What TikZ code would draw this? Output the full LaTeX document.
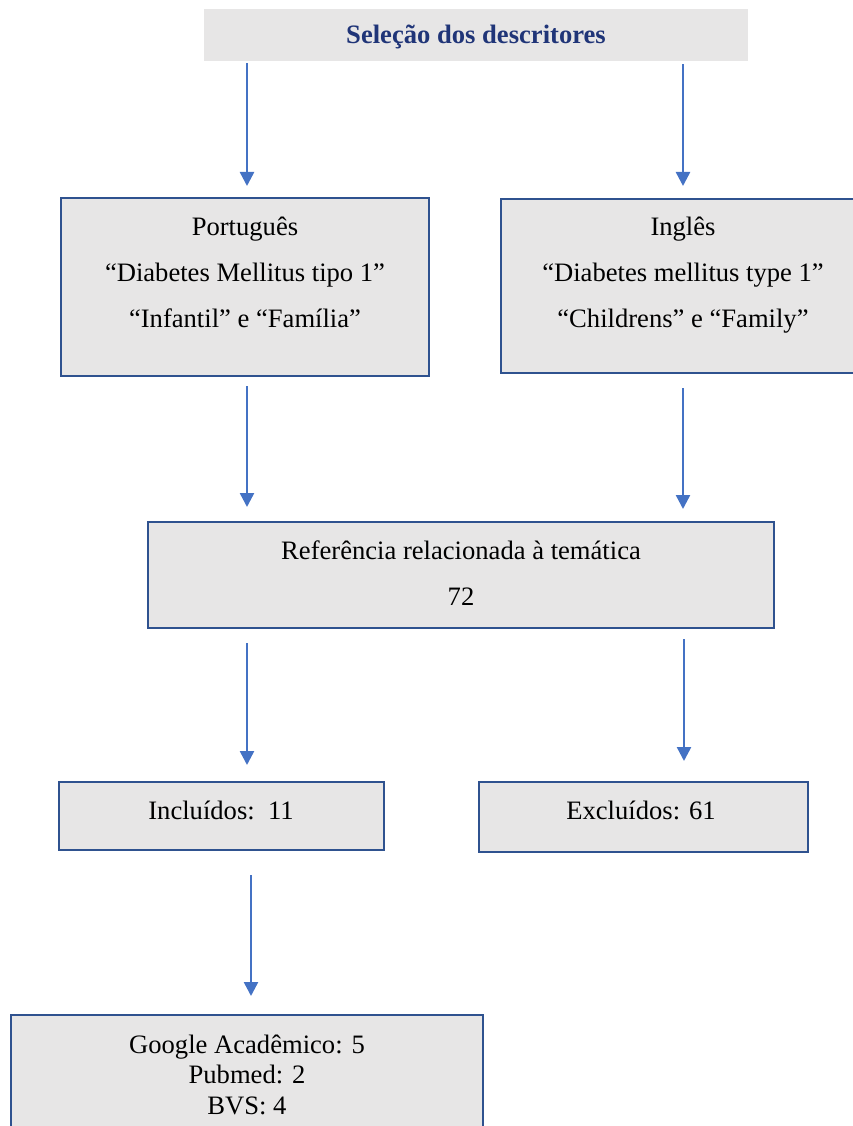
\documentclass[tikz,border=0pt]{standalone}
\usepackage{fontspec}
\setmainfont{Liberation Serif}
\usetikzlibrary{arrows.meta}
\definecolor{boxfill}{HTML}{E7E6E6}
\definecolor{boxline}{HTML}{2F528F}
\definecolor{arrcol}{HTML}{4472C4}
\definecolor{titlecol}{HTML}{203578}
\tikzset{
  box/.style={draw=boxline, line width=2pt, fill=boxfill, inner sep=0pt},
  txt/.style={align=center, inner sep=0pt, font=\fontsize{26.6}{46}\selectfont},
  txtsingle/.style={align=center, inner sep=0pt, font=\fontsize{26.6}{30.5}\selectfont},
  arr/.style={draw=arrcol, line width=2.5pt, -{Triangle[width=14pt,length=14pt]}}
}
\begin{document}
\begin{tikzpicture}[x=1pt,y=1pt]
\useasboundingbox (0,0) rectangle (853,-1126);
% title
\node[fill=boxfill, minimum width=544pt, minimum height=52pt, inner sep=0pt] (top) at (476,-35) {};
\node[txt, text=titlecol, font=\fontsize{26.6}{30}\selectfont\bfseries] (toptxt) at (476,-37) {Seleção dos descritores};
% language boxes
\node[box, minimum width=368pt, minimum height=178pt] (pt) at (245,-287) {};
\node[txt] (pttxt) at (245,-272) {Português\\“Diabetes Mellitus tipo 1”\\“Infantil” e “Família”};
\node[box, minimum width=354pt, minimum height=174pt] (en) at (678,-286) {};
\node[txt] (entxt) at (683,-275) {Inglês\\“Diabetes mellitus type 1”\\“Childrens” e “Family”};
% reference box
\node[box, minimum width=626pt, minimum height=106pt] (ref) at (461,-575) {};
\node[txt] (reftxt) at (461,-573.5) {Referência relacionada à temática\\72};
% included / excluded
\node[box, minimum width=325pt, minimum height=68pt] (inc) at (221.5,-816) {};
\node[txt] (inctxt) at (221,-810) {Incluídos:\ \ 11};
\node[box, minimum width=329pt, minimum height=70pt] (exc) at (643.5,-817) {};
\node[txt] (exctxt) at (641,-810) {Excluídos: 61};
% sources
\node[box, minimum width=472pt, minimum height=120pt] (g) at (247,-1075) {};
\node[txtsingle] (gtxt) at (247,-1074.5) {Google Acadêmico: 5\\Pubmed: 2\\BVS: 4};
% arrows
\draw[arr] ([xshift=-229pt,yshift=-2pt]top.south) -- ([xshift=2pt,yshift=11pt]pt.north);
\draw[arr] ([xshift=207pt,yshift=-3pt]top.south) -- ([xshift=5pt,yshift=12pt]en.north);
\draw[arr] ([xshift=2pt,yshift=-9pt]pt.south) -- ([xshift=-214pt,yshift=14pt]ref.north);
\draw[arr] ([xshift=5pt,yshift=-14pt]en.south) -- ([xshift=222pt,yshift=12pt]ref.north);
\draw[arr] ([xshift=-214pt,yshift=-14pt]ref.south) -- ([xshift=25.5pt,yshift=16pt]inc.north);
\draw[arr] ([xshift=223pt,yshift=-10pt]ref.south) -- ([xshift=40.5pt,yshift=20pt]exc.north);
\draw[arr] ([xshift=29.5pt,yshift=-24pt]inc.south) -- ([xshift=4pt,yshift=18pt]g.north);
\end{tikzpicture}
\end{document}
